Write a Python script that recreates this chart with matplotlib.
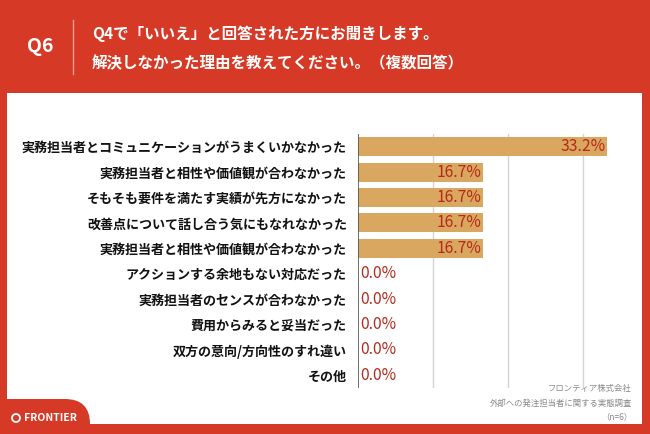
import matplotlib.pyplot as plt
from matplotlib.patches import Rectangle, FancyBboxPatch, Circle

plt.rcParams['font.family'] = ['Noto Sans CJK JP', 'DejaVu Sans']

labels = [
    "実務担当者とコミュニケーションがうまくいかなかった",
    "実務担当者と相性や価値観が合わなかった",
    "そもそも要件を満たす実績が先方になかった",
    "改善点について話し合う気にもなれなかった",
    "実務担当者と相性や価値観が合わなかった",
    "アクションする余地もない対応だった",
    "実務担当者のセンスが合わなかった",
    "費用からみると妥当だった",
    "双方の意向/方向性のすれ違い",
    "その他",
]
values = [33.2, 16.7, 16.7, 16.7, 16.7, 0.0, 0.0, 0.0, 0.0, 0.0]
grid_ticks = [10, 20, 30]

title1 = "Q4で「いいえ」と回答された方にお聞きします。"
title2 = "解決しなかった理由を教えてください。（複数回答）"
notes = ["フロンティア株式会社", "外部への発注担当者に関する実態調査", "（n=6）"]

RED = "#d63a26"
BAR = "#d9a75f"
VAL = "#b8281a"

W, H = 650, 434
fig = plt.figure(figsize=(W / 100, H / 100), dpi=100, facecolor=RED)

def px(x, y):
    return x / W, 1 - y / H

# white panel
fig.patches.append(Rectangle((7 / W, 1 - 424 / H), 635 / W, 331 / H,
                             transform=fig.transFigure, facecolor="white",
                             edgecolor="none", zorder=-2))
# red logo tab bottom-left
fig.patches.append(FancyBboxPatch((-0.5, -0.5), 1.4, (434 - 399) / 100 + 0.5,
                                  boxstyle="round,pad=0,rounding_size=0.25",
                                  transform=fig.dpi_scale_trans, facecolor=RED,
                                  edgecolor="none", zorder=-1))

# header
fig.text(*px(40, 47), "Q6", color="white", fontsize=14, fontweight="bold",
         ha="center", va="center")
fig.add_artist(plt.Line2D([73 / W, 73 / W], [1 - 20 / H, 1 - 74 / H],
                          transform=fig.transFigure, color="#f0a090", lw=1))
fig.text(*px(92, 34), title1, color="white", fontsize=11.2, fontweight="bold",
         ha="left", va="center")
fig.text(*px(92, 63), title2, color="white", fontsize=11.2, fontweight="bold",
         ha="left", va="center")

# chart
x0, x1, ytop, ybot = 358, 621, 134, 388
ax = fig.add_axes([x0 / W, 1 - ybot / H, (x1 - x0) / W, (ybot - ytop) / H])
ax.set_facecolor("none")
n = len(labels)
ypos = list(range(n))
ax.barh(ypos, values, height=0.75, color=BAR, zorder=2)
ax.set_xlim(0, 35)
ax.set_ylim(n - 0.5, -0.5)
for g in grid_ticks:
    ax.axvline(g, color="#d4d4d4", lw=1, zorder=1)
ax.axvline(0, color="#555555", lw=1.2, zorder=3)
for s in ax.spines.values():
    s.set_visible(False)
ax.set_xticks([])
ax.set_yticks(ypos)
ax.set_yticklabels(labels, fontsize=9.4, fontweight="bold", color="#111111")
ax.tick_params(axis="y", length=0, pad=8)

for y, v in zip(ypos, values):
    if v > 0:
        ax.text(v - 0.2, y, f"{v:.1f}%", ha="right", va="center", color=VAL,
                fontsize=11.3, zorder=4)
    else:
        ax.text(0.3, y, f"{v:.1f}%", ha="left", va="center", color=VAL,
                fontsize=11.3, zorder=4)

# notes
for i, t in enumerate(notes):
    fig.text(*px(632, 389 + i * 14), t, color="#888888", fontsize=6.0,
             ha="right", va="center")

# logo
fig.patches.append(Circle((16 / 100, (434 - 418) / 100), 0.04,
                          transform=fig.dpi_scale_trans, facecolor="none",
                          edgecolor="white", lw=1.3, zorder=3))
fig.text(*px(24, 418), "FRONTIER", color="white", fontsize=7.5,
         fontweight="bold", ha="left", va="center", zorder=4)

fig.savefig("out.png", dpi=100, facecolor=RED)
